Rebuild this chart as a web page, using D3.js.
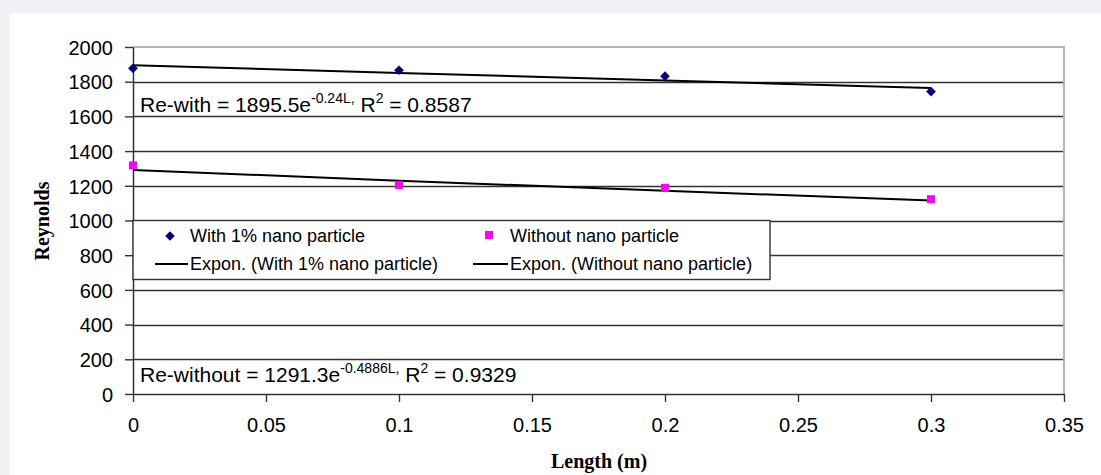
<!DOCTYPE html>
<html>
<head>
<meta charset="utf-8">
<script src="https://cdn.jsdelivr.net/npm/d3@7"></script>
<style>
  html, body { margin: 0; padding: 0; background: #eff1f4; }
  svg { display: block; }
</style>
</head>
<body>
<svg width="1101" height="475"></svg>
<script>
// values
const lengths = [0, 0.1, 0.2, 0.3];
const reWith = [1877, 1866, 1832, 1743];
const reWithout = [1318, 1205, 1188, 1123];
// trendline coefficients (a * e^(b*L)) as printed on the chart
const fitWith = [1895.5, -0.24];
const fitWithout = [1291.3, -0.4886];
const xTicks = [0, 0.05, 0.1, 0.15, 0.2, 0.25, 0.3, 0.35];
const yTicks = [0, 200, 400, 600, 800, 1000, 1200, 1400, 1600, 1800, 2000];
const legendLabels = ["With 1% nano particle", "Without nano particle",
  "Expon. (With 1% nano particle)", "Expon. (Without nano particle)"];

const plot = { left: 133, right: 1064, top: 47, bottom: 394 };

var svg = d3.select("svg");

// white panel
svg.append("rect")
  .attr("x", 10).attr("y", 13)
  .attr("width", 1101).attr("height", 475)
  .attr("fill", "#fff");

var x = d3.scaleLinear().domain([0, 0.35]).range([plot.left, plot.right]);
var y = d3.scaleLinear().domain([0, 2000]).range([plot.bottom, plot.top]);

// grid lines
svg.append("g").selectAll("line")
  .data(yTicks.filter(d => d > 0 && d < 2000))
  .enter().append("line")
  .attr("x1", plot.left).attr("x2", plot.right)
  .attr("y1", d => Math.round(y(d)) + 0.5).attr("y2", d => Math.round(y(d)) + 0.5)
  .attr("stroke", "#333").attr("stroke-width", 1.4);

// plot border top / right
svg.append("path")
  .attr("d", `M${plot.left},${plot.top} H${plot.right} V${plot.bottom}`)
  .attr("fill", "none").attr("stroke", "#b4b4b4").attr("stroke-width", 2);

// axes
var fmt = d => String(d);
var xAxis = svg.append("g")
  .attr("transform", `translate(0,${plot.bottom})`)
  .call(d3.axisBottom(x).tickValues(xTicks).tickFormat(fmt).tickSize(8).tickSizeOuter(0));
var yAxis = svg.append("g")
  .attr("transform", `translate(${plot.left},0)`)
  .call(d3.axisLeft(y).tickValues(yTicks).tickFormat(fmt).tickSize(8).tickSizeOuter(0));

[xAxis, yAxis].forEach(a => {
  a.select(".domain").attr("stroke", "#333").attr("stroke-width", 1.5);
  a.selectAll(".tick line").attr("stroke", "#333").attr("stroke-width", 1.4);
  a.selectAll("text")
    .attr("font-family", "Liberation Sans, Arial, sans-serif")
    .style("font-size", "20px")
    .attr("fill", "#000");
});
xAxis.selectAll("text").attr("y", 24).attr("dy", "0.71em");
yAxis.selectAll("text").attr("x", -20).attr("dy", "0.36em");

// axis titles
svg.append("text")
  .attr("x", 599).attr("y", 468)
  .attr("text-anchor", "middle")
  .attr("font-family", "Liberation Serif, Times New Roman, serif")
  .attr("font-weight", 700)
  .style("font-size", "20px")
  .text("Length (m)");

svg.append("text")
  .attr("transform", "translate(49,221) rotate(-90)")
  .attr("text-anchor", "middle")
  .attr("font-family", "Liberation Serif, Times New Roman, serif")
  .attr("font-weight", 700)
  .style("font-size", "20px")
  .text("Reynolds");

// trend lines
var line = d3.line().x(d => x(d[0])).y(d => y(d[1])).curve(d3.curveMonotoneX);
[fitWith, fitWithout].forEach(f => {
  svg.append("path")
    .datum(lengths.map(L => [L, f[0] * Math.exp(f[1] * L)]))
    .attr("d", line)
    .attr("fill", "none").attr("stroke", "#000").attr("stroke-width", 2);
});

// markers
var diamond = d3.symbol().type(d3.symbolDiamond2).size(60);
svg.append("g").selectAll("path")
  .data(lengths.map((L, i) => [L, reWith[i]]))
  .enter().append("path")
  .attr("d", diamond)
  .attr("transform", d => `translate(${x(d[0])},${y(d[1])})`)
  .attr("fill", "#000080");

svg.append("g").selectAll("rect")
  .data(lengths.map((L, i) => [L, reWithout[i]]))
  .enter().append("rect")
  .attr("x", d => x(d[0]) - 4).attr("y", d => y(d[1]) - 4)
  .attr("width", 8).attr("height", 8)
  .attr("fill", "#ff00ff");

// equation labels
function equation(px, py, parts) {
  var t = svg.append("text")
    .attr("x", px).attr("y", py)
    .attr("font-family", "Liberation Sans, Arial, sans-serif")
    .style("font-size", "21px")
    .attr("fill", "#000");
  parts.forEach(p => {
    t.append("tspan")
      .attr("dy", p[1])
      .style("font-size", p[1] < 0 ? "14px" : "21px")
      .text(p[0]);
  });
}
equation(140, 112, [["Re-with = 1895.5e", 0], ["-0.24L,", -9], [" R", 9], ["2", -9], [" = 0.8587", 9]]);
equation(140, 382, [["Re-without = 1291.3e", 0], ["-0.4886L,", -9], [" R", 9], ["2", -9], [" = 0.9329", 9]]);

// legend
var lg = svg.append("g");
lg.append("rect")
  .attr("x", plot.left).attr("y", 220.5)
  .attr("width", 637).attr("height", 59)
  .attr("fill", "#fff").attr("stroke", "#333").attr("stroke-width", 1.4);

var legendPos = [[190, 242], [510, 242], [190, 270], [510, 270]];
legendLabels.forEach((s, i) => {
  lg.append("text")
    .attr("x", legendPos[i][0]).attr("y", legendPos[i][1])
    .attr("font-family", "Liberation Sans, Arial, sans-serif")
    .style("font-size", "18px")
    .text(s);
});
lg.append("path")
  .attr("d", diamond)
  .attr("transform", "translate(170,236)")
  .attr("fill", "#000080");
lg.append("rect")
  .attr("x", 485).attr("y", 231).attr("width", 8).attr("height", 8)
  .attr("fill", "#ff00ff");
[[155, 188], [473, 508]].forEach(d => {
  lg.append("line")
    .attr("x1", d[0]).attr("x2", d[1]).attr("y1", 264).attr("y2", 264)
    .attr("stroke", "#000").attr("stroke-width", 2);
});
</script>
</body>
</html>
